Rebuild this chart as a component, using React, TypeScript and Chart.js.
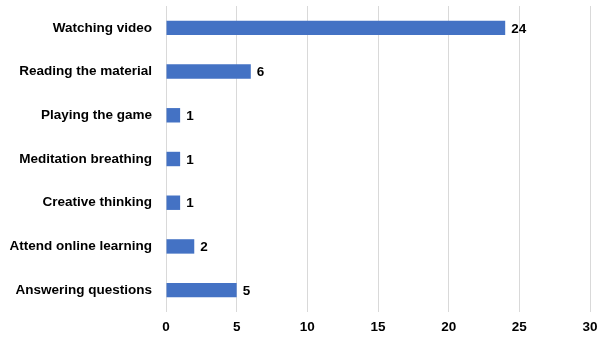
import React, { useEffect, useRef } from "react";
import { Chart, registerables } from "chart.js";

Chart.register(...registerables);

const categories = [
  "Watching video",
  "Reading the material",
  "Playing the game",
  "Meditation breathing",
  "Creative thinking",
  "Attend online learning",
  "Answering questions",
];
const values = [24, 6, 1, 1, 1, 2, 5];
const xMin = 0;
const xMax = 30;
const xStep = 5;

const FONT = "'Liberation Sans', Arial, sans-serif";

const valueLabels = {
  id: "valueLabels",
  afterDatasetsDraw(chart: any) {
    const ctx = chart.ctx;
    const meta = chart.getDatasetMeta(0);
    ctx.save();
    ctx.font = `bold 13.5px ${FONT}`;
    ctx.fillStyle = "#000";
    ctx.textAlign = "left";
    ctx.textBaseline = "middle";
    meta.data.forEach((el: any, i: number) => {
      ctx.fillText(String(values[i]), el.x + 6, el.y + 1);
    });
    ctx.restore();
  },
};

export default function App() {
  const ref = useRef<HTMLCanvasElement>(null);
  useEffect(() => {
    if (!ref.current) return;
    const chart = new Chart(ref.current, {
      type: "bar",
      data: {
        labels: categories,
        datasets: [
          {
            data: values,
            backgroundColor: "#4472C4",
            borderColor: "#4472C4",
            borderWidth: 0,
            barPercentage: 0.33,
            categoryPercentage: 1,
          },
        ],
      },
      options: {
        indexAxis: "y",
        animation: false,
        responsive: true,
        maintainAspectRatio: false,
        layout: { padding: { top: 6, right: 14, left: 0, bottom: 0 } },
        plugins: {
          legend: { display: false },
          tooltip: { enabled: false },
        },
        scales: {
          x: {
            min: xMin,
            max: xMax,
            ticks: {
              stepSize: xStep,
              padding: 7,
              color: "#000",
              font: { family: FONT, size: 13.5, weight: "bold" },
            },
            grid: { color: "#d9d9d9", lineWidth: 1, drawTicks: false },
            border: { display: false },
            afterFit(scale: any) {
              scale.height = 28;
              scale.paddingLeft = 0;
              scale.paddingRight = 0;
            },
          },
          y: {
            ticks: {
              padding: 14,
              color: "#000",
              font: { family: FONT, size: 13.5, weight: "bold" },
            },
            grid: { display: false, drawTicks: false },
            border: { display: false },
            afterFit(scale: any) {
              scale.width = 166;
              scale.paddingTop = 0;
              scale.paddingBottom = 0;
            },
          },
        },
      },
      plugins: [valueLabels],
    });
    return () => chart.destroy();
  }, []);
  return (
    <div style={{ position: "fixed", left: 0, top: 0, width: 604, height: 340, background: "#fff" }}>
      <canvas ref={ref} />
    </div>
  );
}
